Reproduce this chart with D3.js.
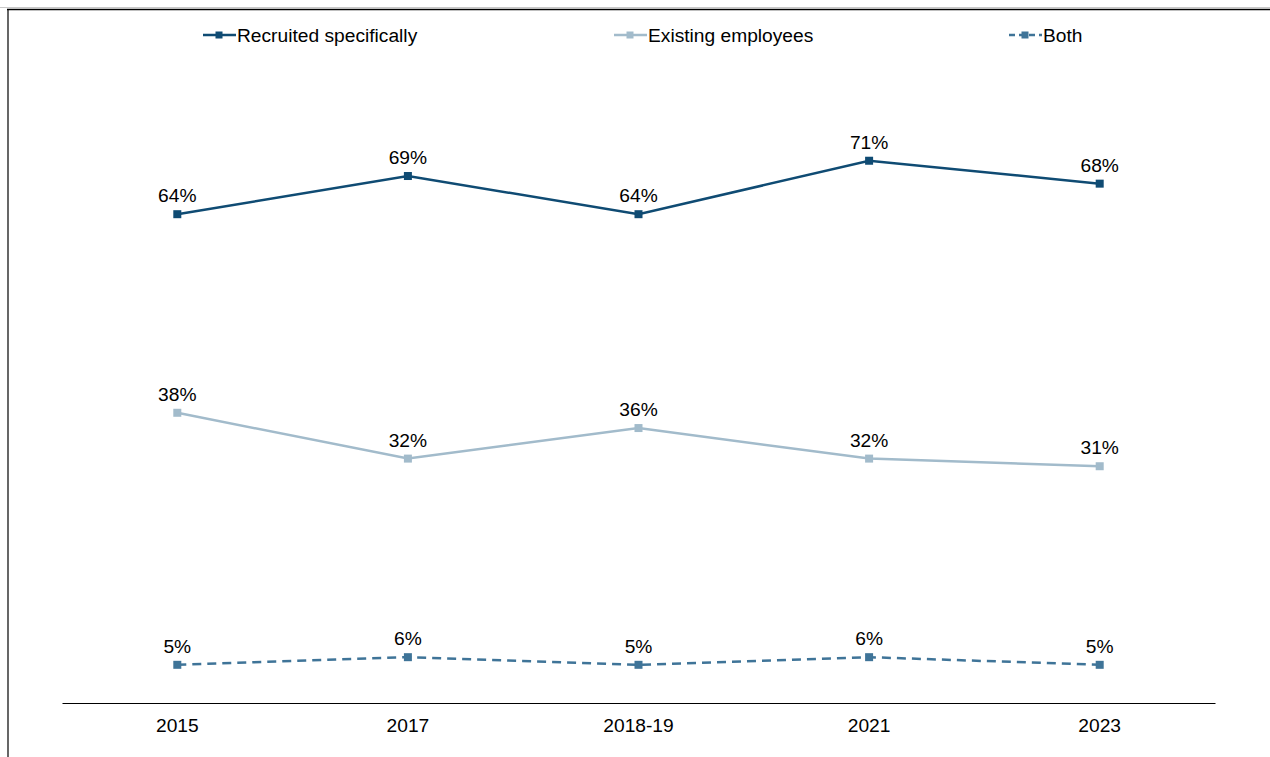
<!DOCTYPE html>
<html>
<head>
<meta charset="utf-8">
<script src="https://cdn.jsdelivr.net/npm/d3@7"></script>
<style>
  html, body { margin: 0; padding: 0; background: #fff; }
  svg { display: block; font-family: "Liberation Sans", Arial, sans-serif; }
</style>
</head>
<body>
<svg id="chart" width="1270" height="757"></svg>
<script>
// Survey waves along the x axis
const years = ["2015", "2017", "2018-19", "2021", "2023"];

// Share of respondents (%) per wave
const recruitedSpecifically = [64, 69, 64, 71, 68];
const existingEmployees = [38, 32, 36, 32, 31];
const both = [5, 6, 5, 6, 5];

const seriesNames = ["Recruited specifically", "Existing employees", "Both"];
const seriesColors = ["#0f4b73", "#a2bbcb", "#3f7498"];
const seriesDash = [null, null, "9,6"];

const series = [recruitedSpecifically, existingEmployees, both].map((vals, i) => ({
  name: seriesNames[i],
  color: seriesColors[i],
  dash: seriesDash[i],
  values: vals.map((v, j) => ({ year: years[j], value: v }))
}));

const FONT = 19.2;
const svg = d3.select("#chart");

// Outer frame: light rule above, black top and left edges
svg.append("line").attr("x1", 0).attr("x2", 1270).attr("y1", 7.5).attr("y2", 7.5)
  .attr("stroke", "#c8c8c8").attr("stroke-width", 1);
svg.append("line").attr("x1", 7).attr("x2", 1270).attr("y1", 9.5).attr("y2", 9.5)
  .attr("stroke", "#000").attr("stroke-width", 1.5);
svg.append("line").attr("x1", 8).attr("x2", 8).attr("y1", 9).attr("y2", 757)
  .attr("stroke", "#000").attr("stroke-width", 1.2);

const x = d3.scaleBand().domain(years).range([62, 1215]);
const y = d3.scaleLinear().domain([0, 80]).range([703, 92]);
const cx = d => x(d.year) + x.bandwidth() / 2;

// Category axis
const xAxis = svg.append("g").attr("transform", "translate(0,703)")
  .call(d3.axisBottom(x).tickSize(0).tickPadding(15));
xAxis.select(".domain").attr("stroke", "#000").attr("stroke-width", 1.2);
xAxis.selectAll("text").attr("font-size", FONT).attr("fill", "#000")
  .attr("font-family", "Liberation Sans, Arial, sans-serif");

const line = d3.line().x(cx).y(d => y(d.value));

const g = svg.append("g");
series.forEach(s => {
  g.append("path")
    .datum(s.values)
    .attr("d", line)
    .attr("fill", "none")
    .attr("stroke", s.color)
    .attr("stroke-width", 2.5)
    .attr("stroke-dasharray", s.dash);

  g.selectAll(null).data(s.values).enter().append("rect")
    .attr("x", d => cx(d) - 4)
    .attr("y", d => y(d.value) - 4)
    .attr("width", 8).attr("height", 8)
    .attr("fill", s.color);

  g.selectAll(null).data(s.values).enter().append("text")
    .attr("x", cx)
    .attr("y", d => y(d.value) - 12)
    .attr("text-anchor", "middle")
    .attr("font-size", FONT)
    .attr("fill", "#000")
    .text(d => d.value + "%");
});

// Legend
const legendX = [203, 614, 1009];
const legend = svg.append("g");
series.forEach((s, i) => {
  const lg = legend.append("g").attr("transform", `translate(${legendX[i]},35)`);
  lg.append("line").attr("x1", 0).attr("x2", 33).attr("y1", 0).attr("y2", 0)
    .attr("stroke", s.color).attr("stroke-width", 2.5)
    .attr("stroke-dasharray", s.dash ? "6,4" : null);
  lg.append("rect").attr("x", 12.5).attr("y", -3.5).attr("width", 7).attr("height", 7)
    .attr("fill", s.color);
  lg.append("text").attr("x", 34).attr("y", 6.5).attr("font-size", FONT)
    .attr("fill", "#000").text(s.name);
});
</script>
</body>
</html>
